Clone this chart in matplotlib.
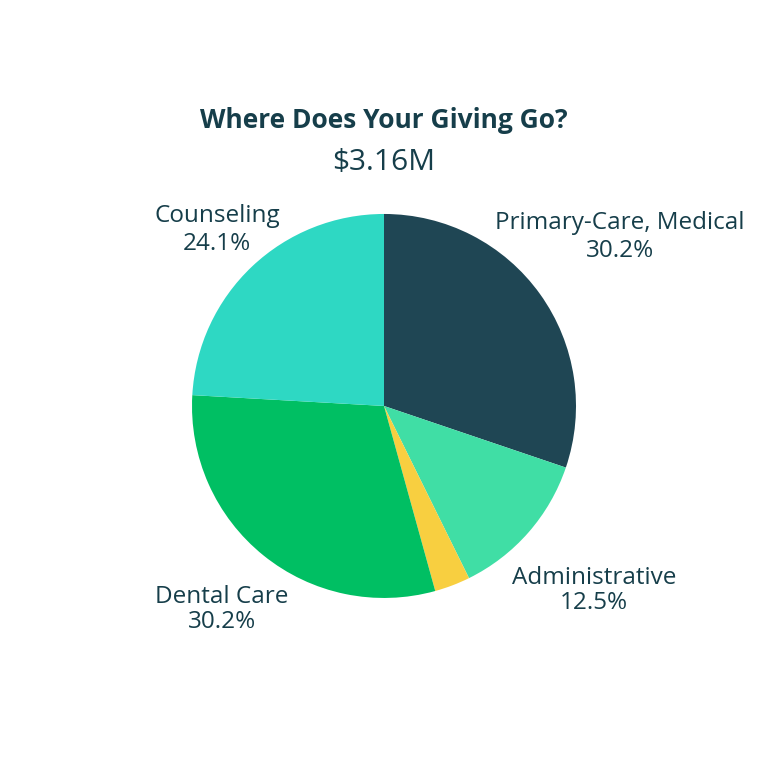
import matplotlib.pyplot as plt

plt.rcParams['font.family'] = ['Open Sans', 'DejaVu Sans']

categories = ['Primary-Care, Medical', 'Administrative', 'Other', 'Dental Care', 'Counseling']
shares = [30.2, 12.5, 3.0, 30.2, 24.1]
show_label = [True, True, False, True, True]
colors = ['#1f4654', '#40dea5', '#f8cf40', '#00bf63', '#2ed8c3']
title = 'Where Does Your Giving Go?'
total = '$3.16M'

text_color = '#163e4a'
# label positions in data coords (pie radius = 1) and line spacing
label_pos = [(1.23, 0.88), (1.095, -0.96), None, (-0.845, -1.06), (-0.87, 0.915)]
label_spacing = [1.22, 1.05, None, 1.05, 1.2]

fig = plt.figure(figsize=(7.68, 7.68), dpi=100)
fig.patch.set_facecolor('white')
ax = fig.add_axes([0.25, 0.2214, 0.5, 0.5])

ax.pie(shares, colors=colors, startangle=90, counterclock=False,
       wedgeprops=dict(linewidth=0))
ax.set_xlim(-1, 1)
ax.set_ylim(-1, 1)
ax.set_aspect('equal')
ax.axis('off')

for name, val, show, pos, ls in zip(categories, shares, show_label, label_pos, label_spacing):
    if not show:
        continue
    ax.text(pos[0], pos[1], f'{name}\n{val:.1f}%', ha='center', va='center',
            fontsize=17.5, color=text_color, linespacing=ls)

fig.text(0.5, 1 - 120 / 768, title, ha='center', va='center',
         fontsize=19, fontweight='bold', color=text_color)
fig.text(0.5, 1 - 162 / 768, total, ha='center', va='center',
         fontsize=21.5, color=text_color)

fig.savefig('out.png', dpi=100, facecolor='white')
